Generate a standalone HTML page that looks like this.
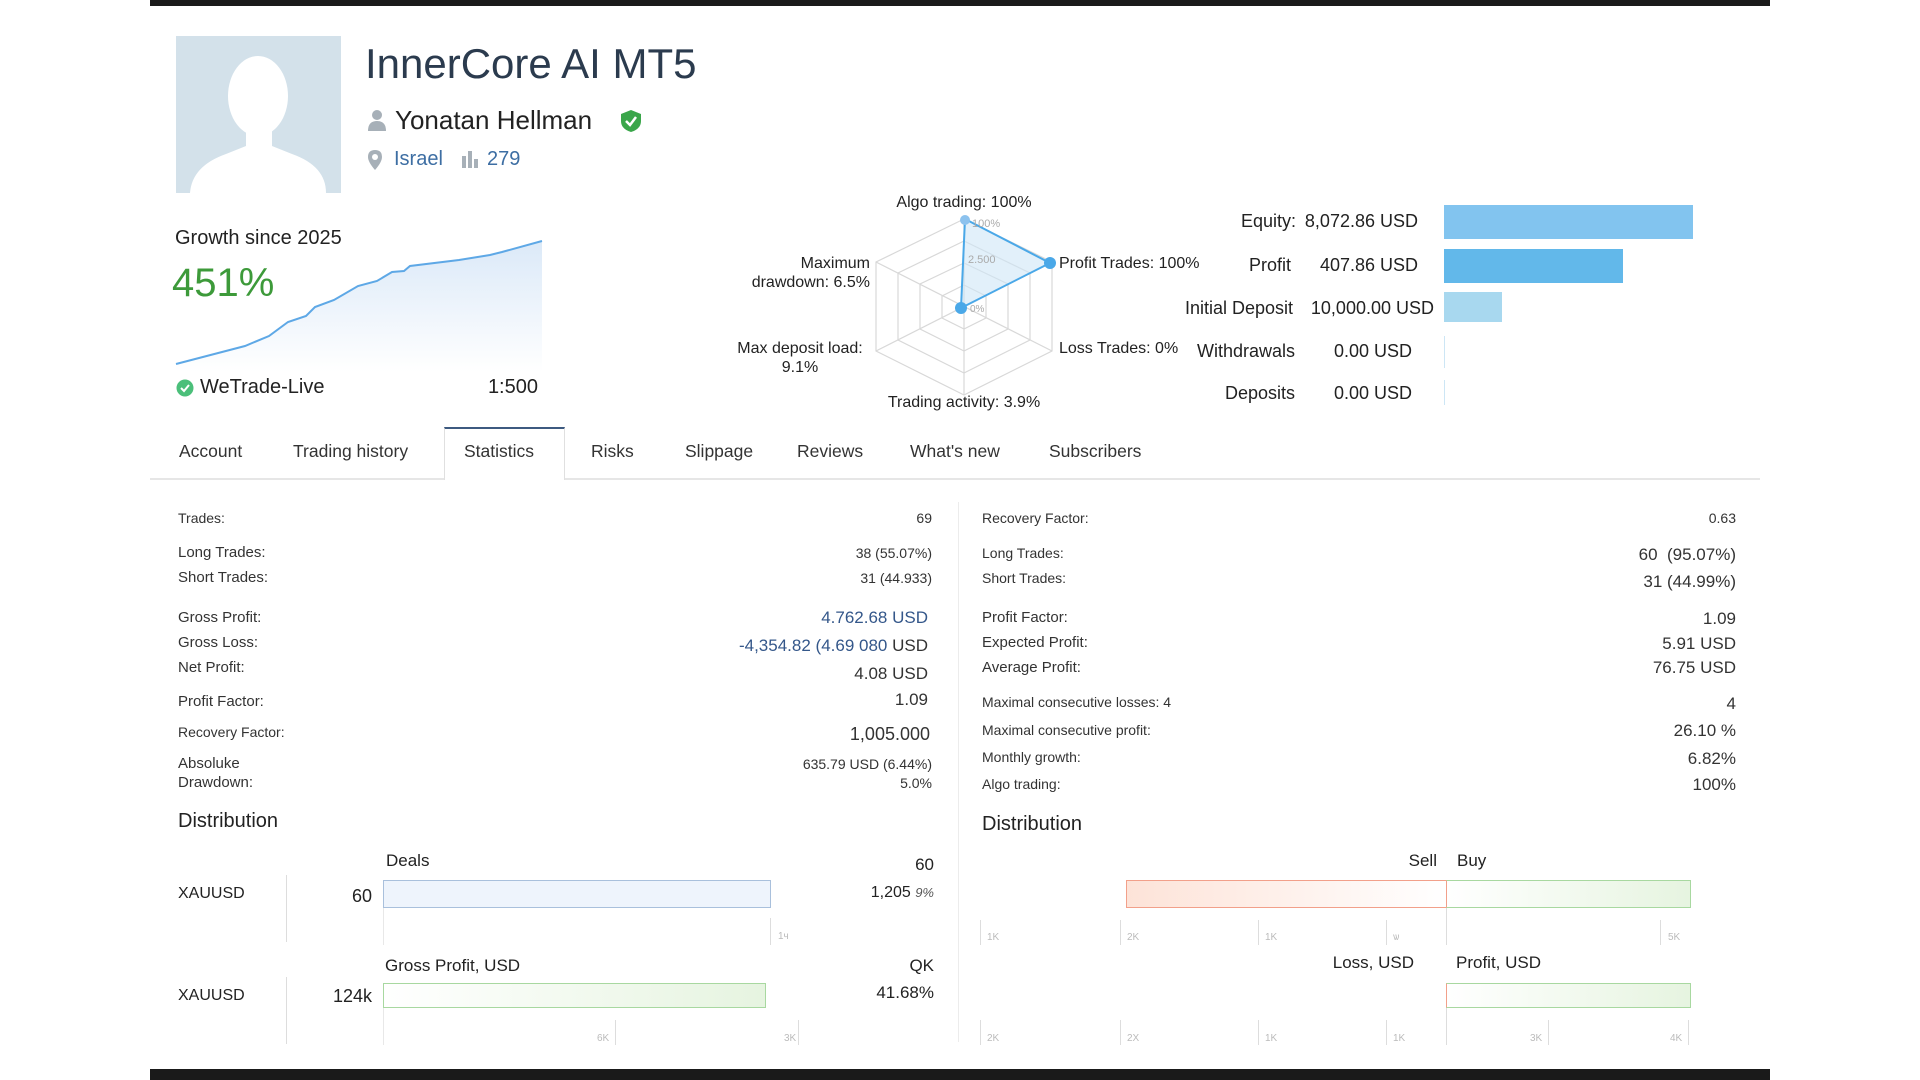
<!DOCTYPE html>
<html><head><meta charset="utf-8"><style>
*{margin:0;padding:0;box-sizing:border-box}
body{width:1920px;height:1080px;background:#fff;position:relative;overflow:hidden;font-family:"Liberation Sans","DejaVu Sans",sans-serif;color:#333}
.a{position:absolute;white-space:nowrap}
.r{text-align:right}
.t{font-size:15px;line-height:20px;color:#333}
.v{font-size:16px;line-height:20px;color:#333}
.tab{position:absolute;top:440px;font-size:17.5px;line-height:22px;color:#333}
.tk{position:absolute;width:1px;background:#ddd}
.tl{position:absolute;font-size:10px;color:#bbb;line-height:12px}
</style></head><body>
<div class="a" style="left:150px;top:0;width:1620px;height:6px;background:#1a1a1a"></div>
<div class="a" style="left:150px;top:1069px;width:1620px;height:11px;background:#1a1a1a"></div>

<!-- avatar -->
<div class="a" style="left:176px;top:36px;width:165px;height:157px;background:#d3e1ea;overflow:hidden">
<svg width="165" height="157"><ellipse cx="82" cy="60" rx="30" ry="40" fill="#fff"/><rect x="70" y="90" width="26" height="30" fill="#fff"/><path d="M14 157 Q16 130 50 118 L70 110 L96 110 L116 118 Q150 130 150 157Z" fill="#fff"/></svg></div>

<div class="a" style="left:365px;top:36px;font-size:42px;line-height:56px;color:#2b3b4e">InnerCore AI MT5</div>
<svg class="a" style="left:367px;top:109px" width="20" height="22"><circle cx="10" cy="6" r="5" fill="#a7b0b8"/><path d="M1 22 Q1 12 10 12 Q19 12 19 22Z" fill="#a7b0b8"/></svg>
<div class="a" style="left:395px;top:105px;font-size:26px;line-height:30px;color:#222">Yonatan Hellman</div>
<svg class="a" style="left:620px;top:109px" width="22" height="24"><path d="M11 1 L21 5 L21 12 Q21 20 11 23 Q1 20 1 12 L1 5Z" fill="#3aa64a"/><path d="M6 12 L10 16 L16 8" stroke="#fff" stroke-width="2.5" fill="none"/></svg>
<svg class="a" style="left:367px;top:149px" width="16" height="22"><path d="M8 1 Q15 1 15 8 Q15 13 8 21 Q1 13 1 8 Q1 1 8 1Z" fill="#a7b0b8"/><circle cx="8" cy="8" r="3" fill="#fff"/></svg>
<div class="a" style="left:394px;top:147px;font-size:20px;line-height:24px;color:#3d6ea3">Israel</div>
<svg class="a" style="left:461px;top:150px" width="18" height="18"><rect x="1" y="6" width="4" height="12" fill="#a7b0b8"/><rect x="7" y="1" width="4" height="17" fill="#a7b0b8"/><rect x="13" y="9" width="4" height="9" fill="#a7b0b8"/></svg>
<div class="a" style="left:487px;top:147px;font-size:20px;line-height:24px;color:#3d6ea3">279</div>

<div class="a" style="left:175px;top:226px;font-size:20px;line-height:24px;color:#222">Growth since 2025</div>
<div class="a" style="left:172px;top:259px;font-size:40px;line-height:48px;color:#3d9a3a">451%</div>
<svg class="a" style="left:0;top:0" width="600" height="400">
<defs><linearGradient id="g" x1="0" y1="0" x2="0" y2="1"><stop offset="0" stop-color="#dbe9f8"/><stop offset="1" stop-color="#fff"/></linearGradient></defs>
<path d="M176 364 L245 346 L269 336 L288 322 L306 316 L315 307 L334 300 L358 286 L377 281 L392 272 L404 271 L410 266 L459 260 L490 255 L502 252 L542 241 L542 372 L176 372Z" fill="url(#g)"/>
<polyline points="176,364 245,346 269,336 288,322 306,316 315,307 334,300 358,286 377,281 392,272 404,271 410,266 459,260 490,255 502,252 542,241" fill="none" stroke="#5ea8e6" stroke-width="2"/>
</svg>
<svg class="a" style="left:176px;top:379px" width="18" height="18"><circle cx="9" cy="9" r="8.5" fill="#4bbf7a"/><path d="M5 9 L8 12 L13 6" stroke="#fff" stroke-width="2" fill="none"/></svg>
<div class="a" style="left:200px;top:375px;font-size:20px;line-height:24px;color:#222">WeTrade-Live</div>
<div class="a r" style="left:438px;width:100px;top:375px;font-size:20px;line-height:24px;color:#222">1:500</div>

<!-- radar -->
<svg class="a" style="left:0;top:0" width="1200" height="430">
<g fill="none" stroke="#d8d8d8" stroke-width="1.2">
<polygon points="964,219 1052,262 1052,351 964,395 876,351 876,262"/>
<polygon points="964,241 1030,273 1030,340 964,373 898,340 898,273"/>
<polygon points="964,263 1008,284 1008,329 964,351 920,329 920,284"/>
<polygon points="964,285 986,296 986,318 964,329 942,318 942,296"/>
<line x1="964" y1="219" x2="964" y2="395"/><line x1="876" y1="262" x2="1052" y2="351"/><line x1="1052" y1="262" x2="876" y2="351"/>
</g>
<polygon points="965,219 1050,263 961,308" fill="#cfe6f7" fill-opacity="0.6" stroke="#4aa8e8" stroke-width="2"/>
<circle cx="965" cy="220" r="5" fill="#8cc2ee"/><circle cx="1050" cy="263" r="6" fill="#4aa8e8"/><circle cx="961" cy="308" r="6" fill="#4aa8e8"/>
<text x="972" y="227" font-size="11" fill="#aaa" font-family="Liberation Sans">100%</text>
<text x="968" y="263" font-size="11" fill="#aaa" font-family="Liberation Sans">2.500</text>
<text x="970" y="312" font-size="10" fill="#aaa" font-family="Liberation Sans">0%</text>
</svg>
<div class="a" style="left:864px;width:200px;text-align:center;top:193px;font-size:16px;line-height:20px;color:#222">Algo trading: 100%</div>
<div class="a" style="left:678px;width:200px;top:254px;font-size:16px;line-height:19px;color:#222;text-align:right;padding-right:8px">Maximum<br>drawdown: 6.5%</div>
<div class="a" style="left:1059px;top:254px;font-size:16px;line-height:20px;color:#222">Profit Trades: 100%</div>
<div class="a" style="left:720px;width:160px;text-align:center;top:339px;font-size:16px;line-height:19px;color:#222">Max deposit load:<br>9.1%</div>
<div class="a" style="left:1059px;top:339px;font-size:16px;line-height:20px;color:#222">Loss Trades: 0%</div>
<div class="a" style="left:864px;width:200px;text-align:center;top:393px;font-size:16px;line-height:20px;color:#222">Trading activity: 3.9%</div>

<!-- right bars -->
<div class="a r" style="left:1150px;width:146px;top:210px;font-size:18px;line-height:22px;color:#222">Equity:</div>
<div class="a r" style="left:1300px;width:118px;top:210px;font-size:18px;line-height:22px;color:#222">8,072.86 USD</div>
<div class="a" style="left:1444px;top:205px;width:249px;height:34px;background:#82c4ef"></div>
<div class="a r" style="left:1150px;width:141px;top:254px;font-size:18px;line-height:22px;color:#222">Profit</div>
<div class="a r" style="left:1300px;width:118px;top:254px;font-size:18px;line-height:22px;color:#222">407.86 USD</div>
<div class="a" style="left:1444px;top:249px;width:179px;height:34px;background:#62b8ea"></div>
<div class="a r" style="left:1100px;width:193px;top:297px;font-size:18px;line-height:22px;color:#222">Initial Deposit</div>
<div class="a r" style="left:1300px;width:134px;top:297px;font-size:18px;line-height:22px;color:#222">10,000.00 USD</div>
<div class="a" style="left:1444px;top:292px;width:58px;height:30px;background:#a8d8ef"></div>
<div class="a r" style="left:1100px;width:195px;top:340px;font-size:18px;line-height:22px;color:#222">Withdrawals</div>
<div class="a r" style="left:1300px;width:112px;top:340px;font-size:18px;line-height:22px;color:#222">0.00 USD</div>
<div class="a" style="left:1444px;top:336px;width:1px;height:32px;background:#cde6f5"></div>
<div class="a r" style="left:1100px;width:195px;top:382px;font-size:18px;line-height:22px;color:#222">Deposits</div>
<div class="a r" style="left:1300px;width:112px;top:382px;font-size:18px;line-height:22px;color:#222">0.00 USD</div>
<div class="a" style="left:1444px;top:380px;width:1px;height:25px;background:#cde6f5"></div>

<!-- tabs -->
<div class="a" style="left:150px;top:478px;width:1610px;height:2px;background:#e6e6e6"></div>
<div class="a" style="left:444px;top:427px;width:121px;height:53px;background:#fff;border:1px solid #e0e0e0;border-top:2px solid #3d5a80;border-bottom:none"></div>
<div class="tab" style="left:179px">Account</div>
<div class="tab" style="left:293px">Trading history</div>
<div class="tab" style="left:464px">Statistics</div>
<div class="tab" style="left:591px">Risks</div>
<div class="tab" style="left:685px">Slippage</div>
<div class="tab" style="left:797px">Reviews</div>
<div class="tab" style="left:910px">What's new</div>
<div class="tab" style="left:1049px">Subscribers</div>

<div class="a" style="left:958px;top:502px;width:1px;height:540px;background:#ececec"></div>

<!-- left stats -->
<div class="a t" style="left:178px;top:508px;font-size:14px">Trades:</div><div class="a v r" style="left:700px;width:232px;top:508px;font-size:14px">69</div>
<div class="a t" style="left:178px;top:543px">Long Trades:</div><div class="a v r" style="left:700px;width:232px;top:543px;font-size:14px">38 (55.07%)</div>
<div class="a t" style="left:178px;top:568px">Short Trades:</div><div class="a v r" style="left:700px;width:232px;top:568px;font-size:14px">31 (44.933)</div>
<div class="a t" style="left:178px;top:608px">Gross Profit:</div><div class="a v r" style="left:700px;width:228px;top:608px;font-size:17px;color:#34578a">4.762.68 USD</div>
<div class="a t" style="left:178px;top:633px">Gross Loss:</div><div class="a v r" style="left:636px;width:292px;top:636px;font-size:17px;color:#34578a">-4,354.82 (4.69 080 <span style="color:#333">USD</span></div>
<div class="a t" style="left:178px;top:658px">Net Profit:</div><div class="a v r" style="left:700px;width:228px;top:664px;font-size:17px">4.08 USD</div>
<div class="a t" style="left:178px;top:692px">Profit Factor:</div><div class="a v r" style="left:700px;width:228px;top:690px;font-size:17px">1.09</div>
<div class="a t" style="left:178px;top:722px;font-size:14px">Recovery Factor:</div><div class="a v r" style="left:700px;width:230px;top:724px;font-size:18px">1,005.000</div>
<div class="a t" style="left:178px;top:754px">Absoluke</div><div class="a v r" style="left:700px;width:232px;top:754px;font-size:14px">635.79 USD (6.44%)</div>
<div class="a t" style="left:178px;top:773px">Drawdown:</div><div class="a v r" style="left:700px;width:232px;top:773px;font-size:14px">5.0%</div>

<!-- right stats -->
<div class="a t" style="left:982px;top:508px;font-size:14px">Recovery Factor:</div><div class="a v r" style="left:1500px;width:236px;top:508px;font-size:14px">0.63</div>
<div class="a t" style="left:982px;top:543px;font-size:14px">Long Trades:</div><div class="a v r" style="left:1500px;width:236px;top:545px;font-size:17px">60&nbsp; (95.07%)</div>
<div class="a t" style="left:982px;top:568px;font-size:14px">Short Trades:</div><div class="a v r" style="left:1500px;width:236px;top:572px;font-size:17px">31 (44.99%)</div>
<div class="a t" style="left:982px;top:608px">Profit Factor:</div><div class="a v r" style="left:1500px;width:236px;top:609px;font-size:17px">1.09</div>
<div class="a t" style="left:982px;top:633px">Expected Profit:</div><div class="a v r" style="left:1500px;width:236px;top:634px;font-size:17px">5.91 USD</div>
<div class="a t" style="left:982px;top:658px">Average Profit:</div><div class="a v r" style="left:1500px;width:236px;top:658px;font-size:17px">76.75 USD</div>
<div class="a t" style="left:982px;top:692px;font-size:14px">Maximal consecutive losses: 4</div><div class="a v r" style="left:1500px;width:236px;top:694px;font-size:17px">4</div>
<div class="a t" style="left:982px;top:720px;font-size:14px">Maximal consecutive profit:</div><div class="a v r" style="left:1500px;width:236px;top:721px;font-size:17px">26.10 %</div>
<div class="a t" style="left:982px;top:747px;font-size:14px">Monthly growth:</div><div class="a v r" style="left:1500px;width:236px;top:749px;font-size:17px">6.82%</div>
<div class="a t" style="left:982px;top:774px;font-size:14px">Algo trading:</div><div class="a v r" style="left:1500px;width:236px;top:775px;font-size:17px">100%</div>

<!-- left distribution -->
<div class="a" style="left:178px;top:809px;font-size:20px;line-height:24px;color:#222">Distribution</div>
<div class="a" style="left:386px;top:851px;font-size:17px;line-height:20px;color:#222">Deals</div>
<div class="a r" style="left:880px;width:54px;top:855px;font-size:17px;line-height:20px;color:#222">60</div>
<div class="a" style="left:178px;top:884px;font-size:16px;line-height:20px;color:#222">XAUUSD</div>
<div class="tk" style="left:286px;top:875px;height:67px"></div>
<div class="a r" style="left:320px;width:52px;top:886px;font-size:18px;line-height:20px;color:#222">60</div>
<div class="a" style="left:383px;top:880px;width:388px;height:28px;background:#eef4fc;border:1.5px solid #a9c0dc"></div>
<div class="a r" style="left:800px;width:134px;top:883px;font-size:16px;line-height:20px;color:#222">1,205 <i style="font-size:13px;color:#555">9%</i></div>
<div class="tk" style="left:383px;top:908px;height:37px;background:#e8e8e8"></div>
<div class="tk" style="left:770px;top:918px;height:27px"></div><div class="tl" style="left:778px;top:931px">1ч</div>
<div class="a" style="left:385px;top:956px;font-size:17px;line-height:20px;color:#222">Gross Profit, USD</div>
<div class="a r" style="left:880px;width:54px;top:956px;font-size:17px;line-height:20px;color:#222">QK</div>
<div class="a" style="left:178px;top:986px;font-size:16px;line-height:20px;color:#222">XAUUSD</div>
<div class="tk" style="left:286px;top:977px;height:67px"></div>
<div class="a r" style="left:300px;width:72px;top:986px;font-size:18px;line-height:20px;color:#222">124k</div>
<div class="a" style="left:383px;top:983px;width:383px;height:25px;background:linear-gradient(90deg,#fff,#e6f4e0);border:1.5px solid #a8d8a0"></div>
<div class="a r" style="left:800px;width:134px;top:983px;font-size:17px;line-height:20px;color:#222">41.68%</div>
<div class="tk" style="left:383px;top:1008px;height:37px;background:#e8e8e8"></div>
<div class="tk" style="left:615px;top:1020px;height:25px"></div><div class="tl" style="left:597px;top:1033px">6K</div>
<div class="tk" style="left:798px;top:1020px;height:25px"></div><div class="tl" style="left:784px;top:1033px">3K</div>

<!-- right distribution -->
<div class="a" style="left:982px;top:812px;font-size:20px;line-height:24px;color:#222">Distribution</div>
<div class="a r" style="left:1380px;width:57px;top:851px;font-size:17px;line-height:20px;color:#222">Sell</div>
<div class="a" style="left:1457px;top:851px;font-size:17px;line-height:20px;color:#222">Buy</div>
<div class="a" style="left:1126px;top:880px;width:320px;height:28px;background:linear-gradient(90deg,#fde3d8,#fff);border:1.5px solid #f2a08a;border-right:none"></div>
<div class="a" style="left:1446px;top:880px;width:245px;height:28px;background:linear-gradient(90deg,#fff,#e6f4e0);border:1.5px solid #a8d8a0;border-left:1.5px solid #f2a08a"></div>
<div class="tk" style="left:980px;top:920px;height:25px"></div><div class="tl" style="left:987px;top:932px">1K</div>
<div class="tk" style="left:1120px;top:920px;height:25px"></div><div class="tl" style="left:1127px;top:932px">2K</div>
<div class="tk" style="left:1258px;top:920px;height:25px"></div><div class="tl" style="left:1265px;top:932px">1K</div>
<div class="tk" style="left:1386px;top:920px;height:25px"></div><div class="tl" style="left:1393px;top:932px">ѡ</div>
<div class="tk" style="left:1446px;top:908px;height:37px"></div>
<div class="tk" style="left:1660px;top:920px;height:25px"></div><div class="tl" style="left:1668px;top:932px">5K</div>
<div class="a r" style="left:1320px;width:94px;top:953px;font-size:17px;line-height:20px;color:#222">Loss, USD</div>
<div class="a" style="left:1456px;top:953px;font-size:17px;line-height:20px;color:#222">Profit, USD</div>
<div class="a" style="left:1446px;top:983px;width:245px;height:25px;background:linear-gradient(90deg,#fff,#e6f4e0);border:1.5px solid #a8d8a0;border-left:1.5px solid #f2a08a"></div>
<div class="tk" style="left:980px;top:1020px;height:25px"></div><div class="tl" style="left:987px;top:1033px">2K</div>
<div class="tk" style="left:1120px;top:1020px;height:25px"></div><div class="tl" style="left:1127px;top:1033px">2X</div>
<div class="tk" style="left:1258px;top:1020px;height:25px"></div><div class="tl" style="left:1265px;top:1033px">1K</div>
<div class="tk" style="left:1386px;top:1020px;height:25px"></div><div class="tl" style="left:1393px;top:1033px">1K</div>
<div class="tk" style="left:1446px;top:1008px;height:37px"></div>
<div class="tk" style="left:1548px;top:1020px;height:25px"></div><div class="tl" style="left:1530px;top:1033px">3K</div>
<div class="tk" style="left:1688px;top:1020px;height:25px"></div><div class="tl" style="left:1670px;top:1033px">4K</div>
</body></html>
